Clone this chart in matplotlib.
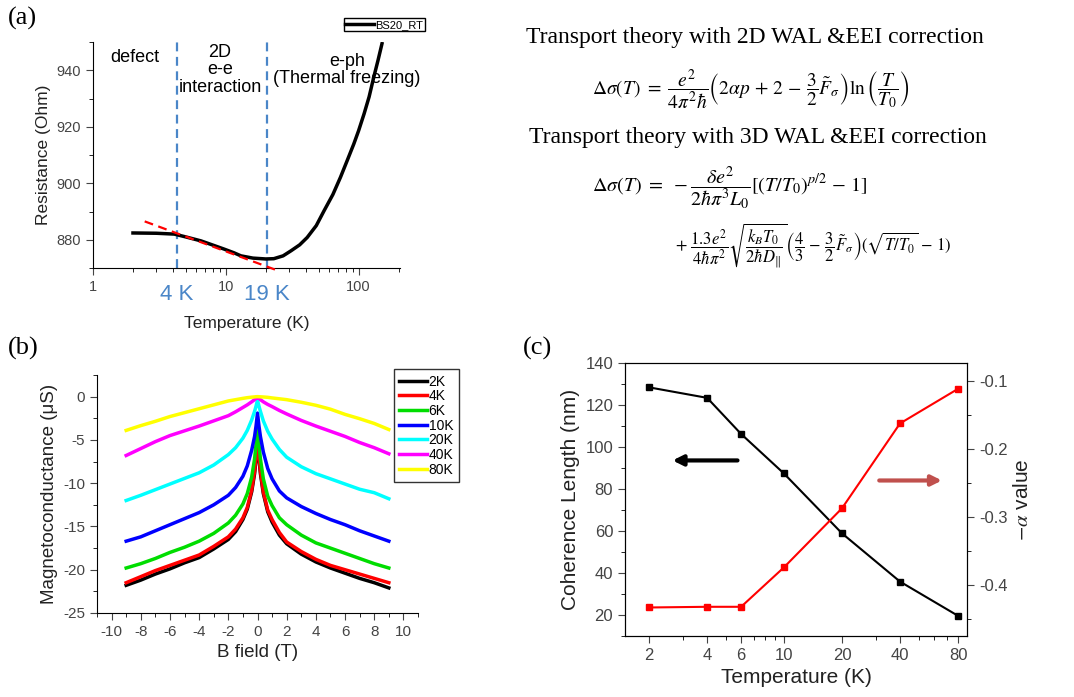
import matplotlib
matplotlib.use("Agg")
import matplotlib.pyplot as plt
from matplotlib.ticker import MultipleLocator, FixedLocator, NullFormatter, FixedFormatter

plt.rcParams['font.family'] = ['Liberation Sans', 'DejaVu Sans']
plt.rcParams['mathtext.fontset'] = 'stix'
plt.rcParams['axes.unicode_minus'] = False

W, H = 1074, 697

# ---- panel (a): R vs T
temp_a = [2, 3, 4.1, 5, 6.5, 8, 9.7, 11.5, 13, 16, 20, 23, 27, 31, 36, 41, 48, 55, 64, 73,
          82, 92, 100, 110, 120, 130, 140, 150]
res_a = [882.4, 882.3, 882.0, 881.0, 879.6, 878.1, 876.7, 875.4, 874.3, 873.5, 873.2, 873.3,
         874.3, 876.1, 878.2, 880.8, 885.0, 890.3, 896.0, 902.1, 908.0, 913.9, 918.6, 924.6,
         930.6, 937.5, 943.5, 949.4]
fit_T = [2.45, 24.9]
fit_R = [886.5, 869.0]
cut_T = [4.3, 20.5]
cut_lbl = ["4 K", "19 K"]

# ---- panel (b): magnetoconductance
bfield = [-9, -8, -7, -6, -5, -4, -3, -2, -1.5, -1, -0.7, -0.4, -0.2, -0.1, 0,
          0.1, 0.2, 0.4, 0.7, 1, 1.5, 2, 3, 4, 5, 6, 7, 8, 9]
mc_temps = ["2K", "4K", "6K", "10K", "20K", "40K", "80K"]
mc_colors = ["black", "red", "#00dd00", "blue", "cyan", "magenta", "yellow"]
mc_2K = [-21.8, -21.2, -20.5, -19.9, -19.2, -18.6, -17.6, -16.5, -15.6, -14.2, -13.0, -11.0, -8.9, -7.2, -5.0,
         -7.2, -8.9, -11.2, -13.3, -14.5, -16.0, -17.0, -18.2, -19.1, -19.8, -20.4, -21.0, -21.5, -22.1]
mc_4K = [-21.5, -20.8, -20.1, -19.5, -18.9, -18.3, -17.3, -16.2, -15.3, -14.0, -12.8, -10.8, -8.6, -6.9, -4.6,
         -6.9, -8.6, -11.0, -13.1, -14.2, -15.7, -16.8, -17.9, -18.8, -19.5, -20.0, -20.5, -21.0, -21.5]
mc_6K = [-19.8, -19.3, -18.7, -18.0, -17.4, -16.7, -15.8, -14.6, -13.7, -12.4, -11.2, -9.3, -7.2, -5.5, -3.2,
         -5.5, -7.2, -9.5, -11.5, -12.6, -14.0, -14.8, -16.0, -16.9, -17.5, -18.1, -18.7, -19.3, -19.8]
mc_10K = [-16.7, -16.2, -15.5, -14.8, -14.1, -13.4, -12.5, -11.4, -10.5, -9.2, -8.0, -6.2, -4.6, -3.4, -1.9,
          -3.4, -4.6, -6.4, -8.3, -9.5, -10.9, -11.7, -12.7, -13.5, -14.2, -14.8, -15.5, -16.1, -16.7]
mc_20K = [-12.0, -11.4, -10.75, -10.1, -9.45, -8.8, -7.9, -6.7, -5.9, -4.8, -3.9, -2.7, -1.7, -1.1, -0.4,
          -1.1, -1.7, -2.8, -4.0, -4.9, -6.1, -7.0, -8.1, -8.9, -9.5, -10.1, -10.7, -11.1, -11.8]
mc_40K = [-6.8, -6.0, -5.2, -4.5, -3.95, -3.4, -2.8, -2.2, -1.75, -1.25, -0.95, -0.6, -0.35, -0.2, -0.1,
          -0.2, -0.35, -0.6, -0.9, -1.15, -1.6, -2.0, -2.75, -3.4, -4.0, -4.6, -5.3, -5.9, -6.6]
mc_80K = [-3.9, -3.35, -2.85, -2.3, -1.85, -1.4, -0.95, -0.5, -0.35, -0.2, -0.12, -0.06, -0.03, -0.01, 0,
          -0.01, -0.02, -0.04, -0.08, -0.15, -0.25, -0.35, -0.65, -1.0, -1.45, -2.05, -2.55, -3.1, -3.8]
mc_all = [mc_2K, mc_4K, mc_6K, mc_10K, mc_20K, mc_40K, mc_80K]

# ---- panel (c): coherence length and alpha
temp_c = [2, 4, 6, 10, 20, 40, 80]
coh_len = [128.4, 123.4, 106.2, 87.4, 58.9, 35.9, 19.6]
neg_alpha = [-0.433, -0.432, -0.432, -0.374, -0.287, -0.162, -0.111]


def px(x, y):
    return x / W, 1 - y / H


def box(l, t, r, b):
    return [l / W, 1 - b / H, (r - l) / W, (b - t) / H]


fig = plt.figure(figsize=(W / 100, H / 100), dpi=100)
grey = '#444444'

# ================= (a)
ax = fig.add_axes(box(93, 42, 400, 268))
ax.plot(temp_a, res_a, color='black', lw=2.5, label='BS20_RT', zorder=3)
ax.plot(fit_T, fit_R, color='red', ls='--', lw=1.6, dashes=(4, 2.5), clip_on=False, zorder=4)
for t in cut_T:
    ax.axvline(t, color='#4a86c8', ls='--', lw=1.6, dashes=(4, 2.5), zorder=2)
ax.set_xscale('log')
ax.set_xlim(1, 205)
ax.set_ylim(870, 950)
ax.xaxis.set_major_locator(FixedLocator([1, 10, 100]))
ax.xaxis.set_major_formatter(FixedFormatter(['1', '10', '100']))
ax.xaxis.set_minor_formatter(NullFormatter())
ax.yaxis.set_major_locator(FixedLocator([880, 900, 920, 940]))
ax.yaxis.set_minor_locator(MultipleLocator(10))
for s in ['top', 'right']:
    ax.spines[s].set_visible(False)
ax.tick_params(labelsize=10.5, colors=grey, labelcolor=grey)
ax.tick_params(which='major', length=5)
ax.tick_params(which='minor', length=3)
for t, lb in zip(cut_T, cut_lbl):
    ax.text(t, -0.07, lb, transform=ax.get_xaxis_transform(), ha='center', va='top',
            color='#4a86c8', fontsize=16)
ax.set_xlabel('Temperature (K)', fontsize=12.5, labelpad=16, color='#222222')
ax.set_ylabel('Resistance (Ohm)', fontsize=12.5, color='#222222')
ax.legend(loc='upper right', bbox_to_anchor=px(425, 18), bbox_transform=fig.transFigure,
          fontsize=8, handlelength=2.6, handletextpad=0.1, borderpad=0.15,
          fancybox=False, edgecolor='black', framealpha=1, borderaxespad=0)
fig.text(*px(135, 58), 'defect', fontsize=13, ha='center', va='center')
fig.text(*px(220, 70), '2D\ne-e\ninteraction', fontsize=13, ha='center', va='center', linespacing=1.05)
fig.text(*px(347, 70), 'e-ph\n(Thermal freezing)', fontsize=13, ha='center', va='center', linespacing=1.05)

# ================= equations
serif = ['Liberation Serif', 'DejaVu Serif']
fig.text(*px(755, 38), 'Transport theory with 2D WAL &EEI correction', family=serif,
         fontsize=17, ha='center', va='center')
fig.text(*px(592, 90),
         r'$\Delta\sigma(T)\ =\ \dfrac{e^2}{4\pi^2\hbar}\left(2\alpha p\,+\,2\,-\,\dfrac{3}{2}\tilde{F}_\sigma\right)\ln\left(\dfrac{T}{T_0}\right)$',
         fontsize=14, ha='left', va='center')
fig.text(*px(758, 138), 'Transport theory with 3D WAL &EEI correction', family=serif,
         fontsize=17, ha='center', va='center')
fig.text(*px(592, 188),
         r'$\Delta\sigma(T)\ =\ -\dfrac{\delta e^2}{2\hbar\pi^3L_0}[(T/T_0)^{p/2}\,-\,1]$',
         fontsize=14.5, ha='left', va='center')
fig.text(*px(675, 246),
         r'$+\ \dfrac{1.3e^2}{4\hbar\pi^2}\sqrt{\dfrac{k_BT_0}{2\hbar D_{\Vert}}}\left(\dfrac{4}{3}\,-\,\dfrac{3}{2}\tilde{F}_\sigma\right)(\sqrt{T/T_0}\,-\,1)$',
         fontsize=12, ha='left', va='center')

# ================= (b)
bx = fig.add_axes(box(97, 375, 418, 613))
for lab, col, vals in zip(mc_temps, mc_colors, mc_all):
    bx.plot(bfield, vals, color=col, lw=2.5, label=lab)
bx.set_xlim(-11, 11)
bx.set_ylim(-25, 2.5)
bx.xaxis.set_major_locator(MultipleLocator(2))
bx.xaxis.set_minor_locator(MultipleLocator(1))
bx.yaxis.set_major_locator(MultipleLocator(5))
bx.yaxis.set_minor_locator(MultipleLocator(2.5))
for s in ['top', 'right']:
    bx.spines[s].set_visible(False)
bx.tick_params(labelsize=11, colors=grey, labelcolor=grey)
bx.tick_params(which='major', length=5)
bx.tick_params(which='minor', length=3)
bx.set_xlabel('B field (T)', fontsize=13.5, color='#222222')
bx.set_ylabel('Magnetoconductance (\u03bcS)', fontsize=13.5, color='#222222')
bx.legend(loc='upper right', bbox_to_anchor=px(459, 369), bbox_transform=fig.transFigure,
          fontsize=10, handlelength=2.0, handletextpad=0.1, labelspacing=0.05, borderpad=0.4,
          fancybox=False, edgecolor='#333333', framealpha=1, borderaxespad=0)

# ================= (c)
cx = fig.add_axes(box(625, 363, 967, 636))
cx.plot(temp_c, coh_len, color='black', marker='s', ms=5, lw=1.5)
cx.set_xscale('log')
cx.set_xlim(1.5, 89)
cx.set_ylim(10, 140)
cx.xaxis.set_major_locator(FixedLocator(temp_c))
cx.xaxis.set_major_formatter(FixedFormatter([str(t) for t in temp_c]))
cx.xaxis.set_minor_locator(FixedLocator([3, 5, 7, 8, 9, 30, 50, 60, 70]))
cx.xaxis.set_minor_formatter(NullFormatter())
cx.yaxis.set_major_locator(MultipleLocator(20))
cx.yaxis.set_minor_locator(MultipleLocator(10))
cx.tick_params(labelsize=12, colors=grey, labelcolor=grey)
cx.tick_params(which='major', length=5)
cx.tick_params(which='minor', length=3)
cx.set_xlabel('Temperature (K)', fontsize=15, color='#222222')
cx.set_ylabel('Coherence Length (nm)', fontsize=15, color='#222222')
cx.annotate('', xy=(2.56, 93.6), xytext=(5.94, 93.6),
            arrowprops=dict(arrowstyle='-|>,head_length=0.6,head_width=0.3', color='black', lw=3))

cx2 = cx.twinx()
cx2.plot(temp_c, neg_alpha, color='red', marker='s', ms=5, lw=1.5)
cx2.set_ylim(-0.475, -0.073)
cx2.yaxis.set_major_locator(MultipleLocator(0.1))
cx2.yaxis.set_minor_locator(MultipleLocator(0.05))
cx2.yaxis.set_major_formatter(plt.FuncFormatter(lambda v, p: f'{v:.1f}'))
cx2.tick_params(labelsize=12, colors=grey, labelcolor=grey)
cx2.tick_params(which='major', length=5)
cx2.tick_params(which='minor', length=3)
cx2.set_ylabel(r'$-\alpha$ value', fontsize=15, color='#222222')
cx2.annotate('', xy=(68.2, -0.246), xytext=(30.2, -0.246),
             arrowprops=dict(arrowstyle='-|>,head_length=0.6,head_width=0.3', color='#c0504d', lw=3))

# panel letters
for lab, (x, y) in [('(a)', (8, 18)), ('(b)', (8, 348)), ('(c)', (523, 348))]:
    fig.text(*px(x, y), lab, family=serif, fontsize=19, ha='left', va='center')

fig.savefig('out.png', dpi=100)
